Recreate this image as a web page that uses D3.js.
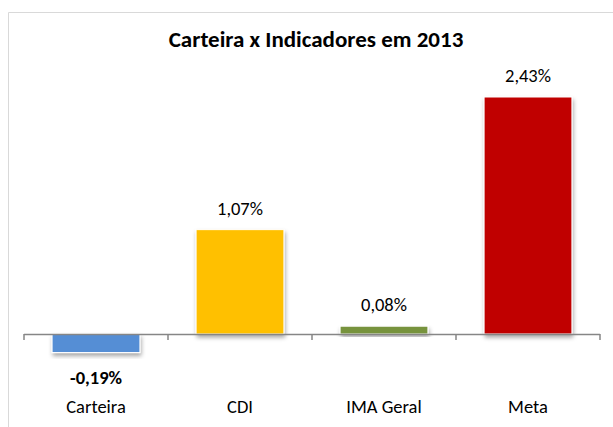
<!DOCTYPE html>
<html>
<head>
<meta charset="utf-8">
<script src="https://cdn.jsdelivr.net/npm/d3@7"></script>
<style>
  body { margin: 0; background: #fff; }
  svg text { font-family: Carlito, "Liberation Sans Narrow", "Open Sans", sans-serif; fill: #000; }
</style>
</head>
<body>
<div id="chart"></div>
<script>
// data
var categories = ["Carteira", "CDI", "IMA Geral", "Meta"];
var values = [-0.19, 1.07, 0.08, 2.43];
var colors = ["#558ed5", "#ffc000", "#77933c", "#c00000"];
var labels = ["-0,19%", "1,07%", "0,08%", "2,43%"];

var width = 613,
    height = 427;

var svg = d3.select("#chart").append("svg")
    .attr("width", width)
    .attr("height", height);

// drop shadow under bars
var defs = svg.append("defs");
var f = defs.append("filter").attr("id", "shadow")
    .attr("x", "-10%").attr("y", "-10%").attr("width", "130%").attr("height", "140%");
f.append("feDropShadow")
    .attr("dx", 1).attr("dy", 3).attr("stdDeviation", 2)
    .attr("flood-color", "#000").attr("flood-opacity", 0.35);

// chart frame (only top and left visible)
svg.append("path")
    .attr("d", "M8.5," + height + "V12.5H" + width)
    .attr("fill", "none")
    .attr("stroke", "#d9d9d9");

svg.append("text")
    .attr("x", 316)
    .attr("y", 47)
    .attr("text-anchor", "middle")
    .style("font-weight", "bold")
    .style("font-size", "23px")
    .text("Carteira x Indicadores em 2013");

var x = d3.scaleBand()
    .domain(categories)
    .range([24, 600])
    .paddingInner(0.39)
    .paddingOuter(0.195);

var y = d3.scaleLinear()
    .domain([0, 2.43])
    .range([334, 97]);

var g = svg.append("g");

g.selectAll("rect.bar")
    .data(values)
    .enter().append("rect")
    .attr("class", "bar")
    .attr("x", function(d, i) { return x(categories[i]); })
    .attr("y", function(d) { return Math.min(y(d), y(0)); })
    .attr("width", x.bandwidth())
    .attr("height", function(d) { return Math.abs(y(d) - y(0)); })
    .attr("fill", function(d, i) { return colors[i]; })
    .attr("stroke", "#fff")
    .attr("stroke-width", 1)
    .attr("filter", "url(#shadow)");

// axis line with ticks between categories
var axis = svg.append("g");
axis.append("line")
    .attr("x1", 24).attr("x2", 600)
    .attr("y1", y(0) + 0.5).attr("y2", y(0) + 0.5)
    .attr("stroke", "#868686").attr("stroke-width", 1.5);
axis.selectAll("line.tick")
    .data(d3.range(categories.length + 1))
    .enter().append("line")
    .attr("class", "tick")
    .attr("x1", function(d) { return 24 + d * x.step(); })
    .attr("x2", function(d) { return 24 + d * x.step(); })
    .attr("y1", y(0)).attr("y2", y(0) + 6)
    .attr("stroke", "#868686").attr("stroke-width", 1.5);

// value labels
g.selectAll("text.val")
    .data(values)
    .enter().append("text")
    .attr("class", "val")
    .attr("x", function(d, i) { return x(categories[i]) + x.bandwidth() / 2; })
    .attr("y", function(d) { return d < 0 ? y(d) + 31 : y(d) - 15; })
    .attr("text-anchor", "middle")
    .style("font-size", "18.5px")
    .style("font-weight", function(d) { return d < 0 ? "bold" : "normal"; })
    .text(function(d, i) { return labels[i]; });

// category labels
g.selectAll("text.cat")
    .data(categories)
    .enter().append("text")
    .attr("class", "cat")
    .attr("x", function(d) { return x(d) + x.bandwidth() / 2; })
    .attr("y", 413)
    .attr("text-anchor", "middle")
    .style("font-size", "18.5px")
    .text(function(d) { return d; });
</script>
</body>
</html>
